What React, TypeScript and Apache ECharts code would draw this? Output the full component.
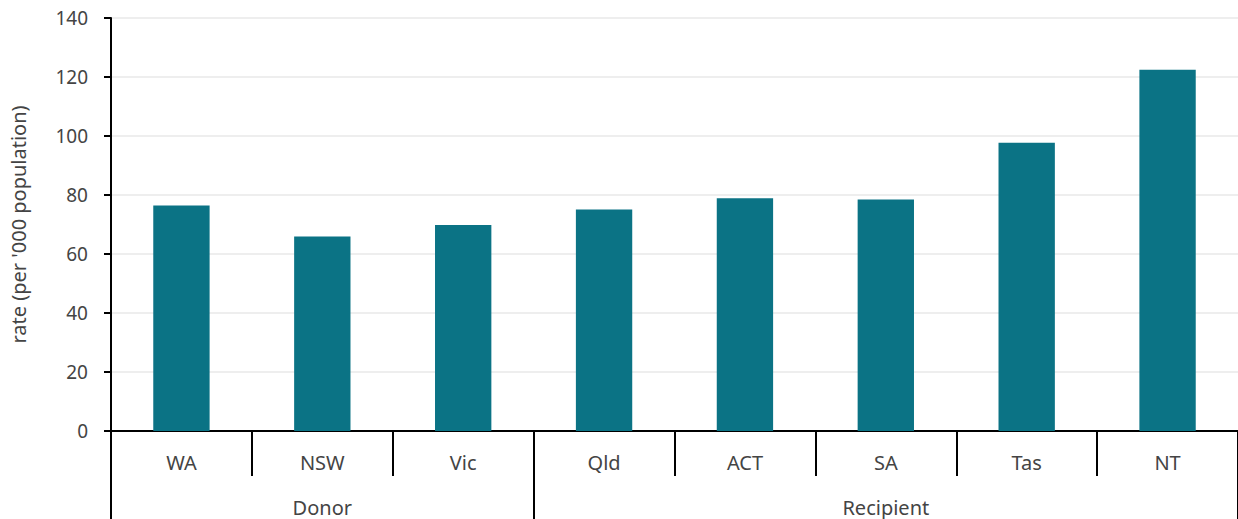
import React, { useEffect, useRef } from "react";
import * as echarts from "echarts";

// Rates by state/territory, grouped by funding role
const categories = ["WA", "NSW", "Vic", "Qld", "ACT", "SA", "Tas", "NT"];
const groups = ["Donor", "Donor", "Donor", "Recipient", "Recipient", "Recipient", "Recipient", "Recipient"];
const rates = [76.4, 65.9, 69.8, 75.1, 78.9, 78.5, 97.7, 122.5];
const yTicks = { min: 0, max: 140, interval: 20 };

const FONT = "'Noto Sans', 'Open Sans', sans-serif";
const TEXT = "#444444";
const AXIS = "#000000";

// Index where each group starts, and index at each group's middle
function groupStarts(): Set<number> {
  const s = new Set<number>();
  groups.forEach((g, i) => {
    if (i === 0 || groups[i - 1] !== g) s.add(i);
  });
  return s;
}
function groupMiddles(): Map<number, string> {
  const m = new Map<number, string>();
  let start = 0;
  for (let i = 1; i <= groups.length; i++) {
    if (i === groups.length || groups[i] !== groups[start]) {
      m.set(Math.floor((start + i - 1) / 2), groups[start]);
      start = i;
    }
  }
  return m;
}

export default function App() {
  const ref = useRef<HTMLDivElement>(null);

  useEffect(() => {
    document.body.style.margin = "0";
    if (!ref.current) return;
    const chart = echarts.init(ref.current, undefined, { renderer: "svg" });
    const starts = groupStarts();
    const middles = groupMiddles();

    chart.setOption({
      animation: false,
      grid: { left: 111, right: -2, top: 18, bottom: 88, containLabel: false },
      xAxis: [
        {
          type: "category",
          data: categories,
          position: "bottom",
          axisLine: { show: true, lineStyle: { color: AXIS, width: 2 } },
          axisTick: { show: true, length: 45, interval: 0, lineStyle: { color: AXIS, width: 2 } },
          axisLabel: { color: TEXT, fontFamily: FONT, fontSize: 20, margin: 21, interval: 0 },
          splitLine: { show: false },
        },
        {
          type: "category",
          data: categories,
          position: "bottom",
          axisLine: { show: false },
          axisTick: {
            show: true,
            length: 90,
            interval: (i: number) => starts.has(i),
            lineStyle: { color: AXIS, width: 2 },
          },
          axisLabel: {
            color: TEXT,
            fontFamily: FONT,
            fontSize: 20,
            margin: 66,
            interval: (i: number) => middles.has(i),
            formatter: (_v: string, i: number) => middles.get(i) ?? "",
          },
          splitLine: { show: false },
        },
      ],
      yAxis: {
        type: "value",
        min: yTicks.min,
        max: yTicks.max,
        interval: yTicks.interval,
        name: "rate (per '000 population)",
        nameLocation: "middle",
        nameGap: 83,
        nameTextStyle: { color: TEXT, fontFamily: FONT, fontSize: 20 },
        axisLine: { show: true, lineStyle: { color: AXIS, width: 2 } },
        axisTick: { show: true, length: 7, lineStyle: { color: AXIS, width: 2 } },
        axisLabel: { color: TEXT, fontFamily: FONT, fontSize: 19, margin: 23 },
        splitLine: { show: true, lineStyle: { color: "#eeeeee", width: 2 } },
      },
      series: [
        {
          type: "bar",
          data: rates,
          xAxisIndex: 0,
          barWidth: "40%",
          itemStyle: { color: "#0b7385" },
        },
      ],
    });

    return () => chart.dispose();
  }, []);

  return <div ref={ref} style={{ width: 1238, height: 519 }} />;
}
